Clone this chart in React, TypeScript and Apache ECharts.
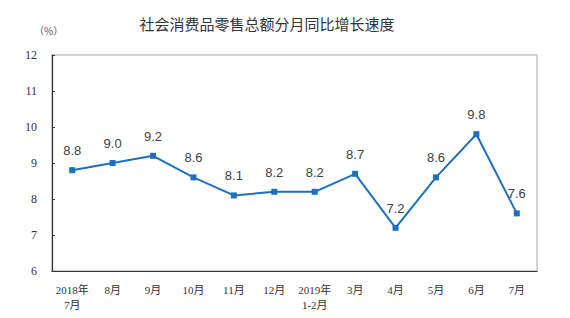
import React, { useEffect, useRef } from "react";
import * as echarts from "echarts";

const categories = ["2018年\n7月", "8月", "9月", "10月", "11月", "12月", "2019年\n1-2月", "3月", "4月", "5月", "6月", "7月"];
const growth = [8.8, 9.0, 9.2, 8.6, 8.1, 8.2, 8.2, 8.7, 7.2, 8.6, 9.8, 7.6];
const title = "社会消费品零售总额分月同比增长速度";
const unitLabel = "（%）";

export default function App() {
  const ref = useRef<HTMLDivElement>(null);
  useEffect(() => {
    if (!ref.current) return;
    const chart = echarts.init(ref.current, null, { renderer: "svg" });
    chart.setOption({
      animation: false,
      backgroundColor: "#ffffff",
      title: {
        text: title,
        left: 262,
        top: 11,
        textAlign: "center",
        textStyle: { fontFamily: "Noto Sans CJK SC", fontSize: 15, fontWeight: "normal", color: "#333333" },
      },
      graphic: [
        {
          type: "text",
          left: 34,
          top: 25,
          style: { text: unitLabel, fontFamily: "Noto Sans CJK SC", fontSize: 10, fill: "#555555" },
        },
      ],
      grid: {
        left: 52,
        right: 33,
        top: 55,
        bottom: 47,
        show: true,
        borderColor: "#c4c4c4",
        borderWidth: 1.5,
      },
      xAxis: {
        type: "category",
        data: categories,
        boundaryGap: true,
        axisLine: { lineStyle: { color: "#333333", width: 1.2 } },
        axisTick: { inside: true, length: 4, lineStyle: { color: "#333333" } },
        axisLabel: {
          interval: 0,
          margin: 11,
          fontFamily: "Liberation Serif, Noto Sans CJK SC",
          fontSize: 11,
          lineHeight: 15,
          color: "#333333",
        },
        splitLine: { show: false },
      },
      yAxis: {
        type: "value",
        min: 6,
        max: 12,
        interval: 1,
        axisLine: { show: true, lineStyle: { color: "#333333", width: 1.2 } },
        axisTick: { show: true, inside: true, length: 3, lineStyle: { color: "#333333" } },
        axisLabel: {
          margin: 15,
          fontFamily: "Liberation Serif",
          fontSize: 12,
          color: "#333333",
        },
        splitLine: { show: false },
      },
      series: [
        {
          type: "line",
          data: growth,
          symbol: "rect",
          symbolSize: 6,
          lineStyle: { color: "#1f6fbf", width: 2 },
          itemStyle: { color: "#1f6fbf" },
          label: {
            show: true,
            position: "top",
            distance: 10,
            formatter: (p: any) => Number(p.value).toFixed(1),
            fontFamily: "Liberation Sans",
            fontSize: 13,
            color: "#404040",
          },
        },
      ],
    });
    return () => chart.dispose();
  }, []);
  return <div ref={ref} style={{ width: 570, height: 318, position: "absolute", left: 0, top: 0 }} />;
}
